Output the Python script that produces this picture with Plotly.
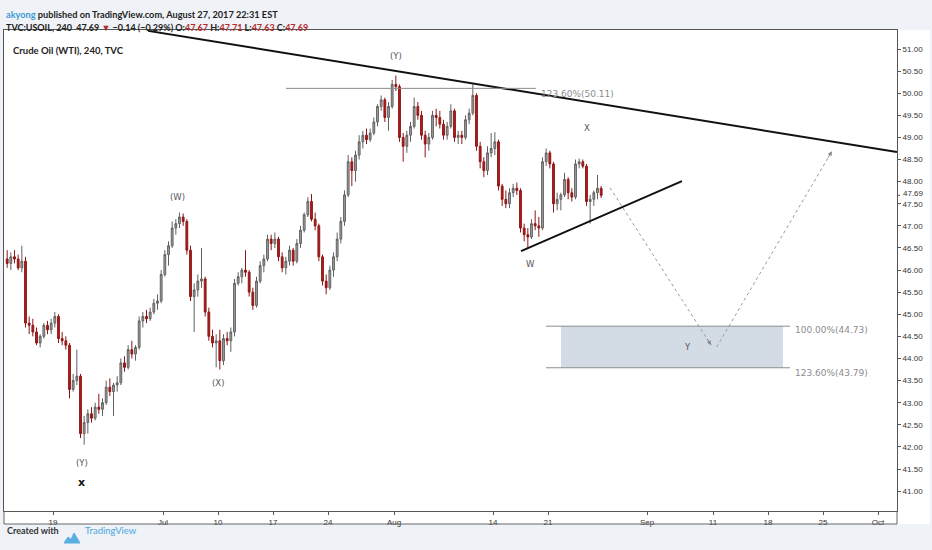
import pandas as pd
import plotly.graph_objects as go

W, H = 932, 550
ML, MR, MT, MB = 4, 35, 30, 39

# 8h bars (first one is the tail of Jun 12)
days = pd.bdate_range("2017-06-13", "2017-08-25")
bar_times = [pd.Timestamp("2017-06-12 20:00")] + [d + pd.Timedelta(hours=h) for d in days for h in (4, 12, 20)]

open_prices = [
    46.25,
    46.15, 46.30, 46.25,  46.05, 46.20, 44.80,  44.75, 44.60, 44.35,  44.50, 44.75, 44.65,
    44.80, 44.95, 44.45,  44.40, 44.30, 43.30,  43.50, 43.60, 42.30,  42.55, 42.75, 42.65,  42.90, 42.85, 43.00,
    43.35, 43.25, 43.40,  43.45, 43.90, 43.80,  44.20, 44.10, 44.25,  44.85, 44.95, 44.90,  45.05, 45.25, 45.30,
    45.90, 46.35, 46.55,  46.95, 47.05, 47.20,  47.10, 46.45, 45.40,  45.55, 45.75, 45.80,  45.05, 44.50, 44.35,
    44.40, 43.95, 44.45,  44.40, 44.60, 45.70,  45.85, 46.00, 45.95,  45.50, 45.20, 45.75,  46.10, 46.25, 46.70,
    46.60, 46.70, 46.30,  46.05, 46.20, 46.45,  46.20, 46.60, 46.90,  47.25, 47.55, 47.15,  47.00, 46.30, 45.75,
    45.60, 46.00, 46.30,  46.70, 47.10, 47.70,  48.45, 48.25, 48.60,  48.90, 49.05, 48.95,  49.10, 49.35, 49.70,
    49.85, 49.45, 49.70,  50.20, 50.15, 49.00,  48.80, 49.05, 49.25,  49.70, 49.50, 49.05,  48.85, 49.00, 49.50,
    49.45, 49.30, 49.05,  49.25, 49.60, 49.00,  49.05, 49.00, 49.40,  49.55, 49.95, 48.80,  48.45, 48.25, 48.65,
    48.75, 48.90, 47.90,  47.60, 47.50, 47.75,  47.85, 47.80, 46.95,  46.80, 46.75, 47.05,  47.00, 46.95, 48.45,
    48.65, 48.40, 47.50,  47.60, 47.70, 48.05,  47.75, 47.65, 48.40,  48.45, 48.35, 47.55,  47.60, 47.75, 47.85,
]
high_prices = [
    46.45,
    46.40, 46.45, 46.35,  46.55, 46.30, 44.95,  44.90, 44.70, 44.55,  44.80, 44.85, 44.90,
    45.05, 45.00, 44.60,  44.50, 44.35, 43.65,  44.20, 43.65, 42.70,  42.85, 42.90, 43.00,  43.20, 43.10, 43.50,
    43.55, 43.45, 43.60,  44.00, 44.05, 44.30,  44.40, 44.30, 44.95,  45.05, 45.10, 45.15,  45.35, 45.45, 46.00,
    46.45, 46.65, 47.10,  47.15, 47.30, 47.28,  47.15, 46.55, 45.70,  45.90, 46.50, 45.85,  45.15, 44.65, 44.55,
    44.65, 44.55, 44.60,  44.70, 45.80, 45.95,  46.05, 46.45, 46.00,  45.60, 45.85, 46.20,  46.35, 46.80, 46.80,
    46.85, 46.75, 46.40,  46.30, 46.55, 46.50,  46.70, 47.00, 47.30,  47.65, 47.72, 47.30,  47.05, 46.35, 45.90,
    46.10, 46.40, 46.85,  47.20, 47.80, 48.60,  48.55, 48.70, 49.05,  49.15, 49.20, 49.20,  49.45, 49.75, 49.95,
    49.90, 49.80, 50.30,  50.40, 50.20, 49.10,  49.15, 49.35, 49.90,  49.80, 49.60, 49.15,  49.10, 49.60, 49.65,
    49.60, 49.40, 49.35,  49.75, 49.65, 49.15,  49.15, 49.50, 49.65,  50.20, 50.00, 48.90,  48.55, 48.80, 49.10,
    49.12, 48.95, 47.95,  47.80, 47.85, 47.95,  47.98, 47.85, 47.05,  46.95, 47.15, 47.35,  47.20, 48.55, 48.75,
    48.70, 48.45, 47.75,  47.75, 48.20, 48.10,  47.85, 48.50, 48.52,  48.50, 48.40, 47.70,  47.80, 48.15, 47.90,
]
low_prices = [
    46.05,
    46.00, 46.15, 46.00,  45.95, 44.70, 44.55,  44.50, 44.30, 44.25,  44.45, 44.55, 44.55,
    44.70, 44.35, 44.30,  44.20, 43.10, 43.25,  43.40, 42.20, 42.05,  42.30, 42.55, 42.60,  42.75, 42.70, 42.95,
    43.15, 42.70, 43.25,  43.40, 43.70, 43.75,  44.00, 43.95, 44.20,  44.70, 44.80, 44.85,  45.00, 45.10, 45.25,
    45.85, 46.10, 46.50,  46.80, 46.95, 47.00,  46.35, 45.30, 44.60,  45.40, 45.60, 44.95,  44.40, 44.25, 43.80,
    43.75, 43.85, 44.30,  44.15, 44.50, 45.65,  45.70, 45.85, 45.40,  45.10, 45.15, 45.70,  45.95, 46.20, 46.45,
    46.50, 46.20, 45.95,  45.90, 46.10, 46.10,  46.15, 46.50, 46.85,  47.20, 47.10, 46.90,  46.20, 45.65, 45.45,
    45.55, 45.85, 46.20,  46.60, 47.00, 47.65,  47.90, 48.00, 48.50,  48.75, 48.85, 48.90,  49.05, 49.25, 49.60,
    49.35, 49.15, 49.65,  50.05, 48.90, 48.45,  48.65, 48.90, 49.20,  49.40, 48.95, 48.55,  48.70, 48.95, 49.25,
    49.20, 48.95, 48.95,  49.20, 48.90, 48.85,  48.85, 48.95, 49.30,  49.50, 48.70, 48.30,  48.10, 48.15, 48.55,
    48.60, 47.80, 47.45,  47.40, 47.40, 47.65,  47.70, 46.85, 46.65,  46.50, 46.70, 46.90,  46.75, 46.90, 48.35,
    48.30, 47.30, 47.35,  47.35, 47.65, 47.60,  47.55, 47.60, 48.30,  48.30, 47.45, 47.05,  47.45, 47.60, 47.63,
]
close_prices = [
    46.15,
    46.30, 46.25, 46.05,  46.20, 44.80, 44.75,  44.60, 44.35, 44.50,  44.75, 44.65, 44.80,
    44.95, 44.45, 44.40,  44.30, 43.30, 43.50,  43.60, 42.30, 42.55,  42.75, 42.65, 42.90,  42.85, 43.00, 43.35,
    43.25, 43.40, 43.45,  43.90, 43.80, 44.20,  44.10, 44.25, 44.85,  44.95, 44.90, 45.05,  45.25, 45.30, 45.90,
    46.35, 46.55, 46.95,  47.05, 47.20, 47.10,  46.45, 45.40, 45.55,  45.75, 45.80, 45.05,  44.50, 44.35, 44.40,
    43.95, 44.45, 44.40,  44.60, 45.70, 45.85,  46.00, 45.95, 45.50,  45.20, 45.75, 46.10,  46.25, 46.70, 46.60,
    46.70, 46.30, 46.05,  46.20, 46.45, 46.20,  46.60, 46.90, 47.25,  47.55, 47.15, 47.00,  46.30, 45.75, 45.60,
    46.00, 46.30, 46.70,  47.10, 47.70, 48.45,  48.25, 48.60, 48.90,  49.05, 48.95, 49.10,  49.35, 49.70, 49.85,
    49.45, 49.70, 50.20,  50.15, 49.00, 48.80,  49.05, 49.25, 49.70,  49.50, 49.05, 48.85,  49.00, 49.50, 49.45,
    49.30, 49.05, 49.25,  49.60, 49.00, 49.05,  49.00, 49.40, 49.55,  49.95, 48.80, 48.45,  48.25, 48.65, 48.75,
    48.90, 47.90, 47.60,  47.50, 47.75, 47.85,  47.80, 46.95, 46.80,  46.75, 47.05, 47.00,  46.95, 48.45, 48.65,
    48.40, 47.50, 47.60,  47.70, 48.05, 47.75,  47.65, 48.40, 48.45,  48.35, 47.55, 47.60,  47.75, 47.85, 47.69,
]
last_price = 47.69

tick_dates = ["2017-06-19", "2017-07-03", "2017-07-10", "2017-07-17", "2017-07-24", "2017-08-01", "2017-08-14",
              "2017-08-21", "2017-09-01", "2017-09-11", "2017-09-18", "2017-09-25", "2017-10-02"]
tick_text = ["19", "Jul", "10", "17", "24", "Aug", "14", "21", "Sep", "11", "18", "25", "Oct"]
price_ticks = [41 + 0.5 * i for i in range(21)]

# drawings (time, price)
trend_hi_t = ["2017-06-29 15:20", "2017-10-03 17:27"]
trend_hi_p = [51.41, 48.67]
trend_lo_t = ["2017-08-16 13:12", "2017-09-06 04:20"]
trend_lo_p = [46.43, 48.01]
leg1_t = ["2017-08-28 15:20", "2017-09-08 20:00"]
leg1_p = [47.86, 44.30]
leg2_t = ["2017-09-11 08:00", "2017-09-25 19:40"]
leg2_p = [44.26, 48.69]

fib_levels = [50.11, 44.73, 43.79]
fib_labels = ["123.60%(50.11)", "100.00%(44.73)", "123.60%(43.79)"]
fib_start = ["2017-07-18 04:20", "2017-08-18 19:40", "2017-08-18 19:40"]
fib_end = ["2017-08-17 21:40", "2017-09-20 00:00", "2017-09-20 00:00"]
box_t = ["2017-08-22 04:20", "2017-09-19 08:40"]

wave_text = ["(Y)", "(W)", "(X)", "(Y)", "X", "W", "Y"]
wave_t = ["2017-08-01 04:20", "2017-07-04 08:40", "2017-07-10 00:00", "2017-06-21 15:20",
          "2017-08-24 13:10", "2017-08-17 10:50", "2017-09-06 15:20"]
wave_p = [50.84, 47.65, 43.44, 41.63, 49.21, 46.14, 44.26]
mark_t, mark_p = "2017-06-21 14:30", 41.20


def px_x(px):
    return (px - ML) / (W - ML - MR)


def px_y(py):
    return (H - MB - py) / (H - MT - MB)


fig = go.Figure()
fig.add_trace(go.Candlestick(
    x=bar_times, open=open_prices, high=high_prices, low=low_prices, close=close_prices,
    increasing=dict(line=dict(color="#606060", width=1), fillcolor="#a4a4a4"),
    decreasing=dict(line=dict(color="#8e1515", width=1), fillcolor="#b21c1c"),
    whiskerwidth=0, showlegend=False, hoverinfo="skip"))

for t, p in [(trend_hi_t, trend_hi_p), (trend_lo_t, trend_lo_p)]:
    fig.add_trace(go.Scatter(x=t, y=p, mode="lines", line=dict(color="#111", width=2),
                             showlegend=False, hoverinfo="skip"))
for t, p in [(leg1_t, leg1_p), (leg2_t, leg2_p)]:
    fig.add_trace(go.Scatter(x=t, y=p, mode="lines", line=dict(color="#9a9a9a", width=1, dash="dot"),
                             showlegend=False, hoverinfo="skip"))

shapes = []
# widget background and frames
shapes.append(dict(type="rect", xref="paper", yref="paper", x0=px_x(4), x1=px_x(930), y0=px_y(524), y1=px_y(30),
                   fillcolor="white", line=dict(width=0), layer="below"))
shapes.append(dict(type="line", xref="paper", yref="paper", x0=px_x(4), x1=px_x(897), y0=px_y(524), y1=px_y(524),
                   line=dict(color="#666", width=1)))
shapes.append(dict(type="line", xref="paper", yref="paper", x0=px_x(4), x1=px_x(4), y0=px_y(524), y1=px_y(511),
                   line=dict(color="#666", width=1)))
shapes.append(dict(type="line", xref="paper", yref="paper", x0=px_x(897), x1=px_x(897), y0=px_y(524), y1=px_y(511),
                   line=dict(color="#666", width=1)))
# fib box and levels
shapes.append(dict(type="rect", xref="x", yref="y", x0=box_t[0], x1=box_t[1], y0=fib_levels[2], y1=fib_levels[1],
                   fillcolor="#d3dce5", line=dict(width=0), layer="below"))
for lv, t0, t1 in zip(fib_levels, fib_start, fib_end):
    shapes.append(dict(type="line", xref="x", yref="y", x0=t0, x1=t1, y0=lv, y1=lv,
                       line=dict(color="#8c8c8c", width=1)))
# last price tick
shapes.append(dict(type="line", xref="paper", yref="y", x0=1, x1=1 + 3 / (W - ML - MR), y0=last_price, y1=last_price,
                   line=dict(color="#555", width=1)))
# logo
lx = [64, 68, 71, 74, 80]
ly = [543, 537, 539.5, 533, 543]
logo_path = "M " + " L ".join(f"{px_x(a)} {px_y(b)}" for a, b in zip(lx, ly)) + " Z"
shapes.append(dict(type="path", xref="paper", yref="paper", path=logo_path,
                   fillcolor="#5aaee2", line=dict(color="#5aaee2", width=1)))

ann = []
for txt, t, p in zip(wave_text, wave_t, wave_p):
    ann.append(dict(x=t, y=p, xref="x", yref="y", text=txt, showarrow=False,
                    font=dict(family="DejaVu Sans", size=8.5, color="#555")))
ann.append(dict(x=mark_t, y=mark_p, xref="x", yref="y", text="<b>x</b>", showarrow=False,
                font=dict(family="DejaVu Sans", size=11, color="#111")))
for lab, lv, t1, ys in zip(fib_labels, fib_levels, fib_end, [-6, -4, -5]):
    ann.append(dict(x=t1, y=lv, xref="x", yref="y", text=lab, showarrow=False, xanchor="left",
                    xshift=3, yshift=ys, font=dict(family="DejaVu Sans", size=9, color="#8c8c8c")))
# arrow heads at the ends of the dotted legs
ann.append(dict(x=leg1_t[1], y=leg1_p[1], xref="x", yref="y", text="", showarrow=True, ax=-5, ay=-8,
                arrowhead=2, arrowsize=0.9, arrowwidth=1, arrowcolor="#8c8c8c"))
ann.append(dict(x=leg2_t[1], y=leg2_p[1], xref="x", yref="y", text="", showarrow=True, ax=-5, ay=8,
                arrowhead=2, arrowsize=0.9, arrowwidth=1, arrowcolor="#8c8c8c"))
ann.append(dict(x=1, y=last_price, xref="paper", yref="y", text=f"{last_price:.2f}", showarrow=False,
                xanchor="left", xshift=4, yshift=2, font=dict(family="Liberation Sans", size=8, color="#333")))
ann.append(dict(x=px_x(11), y=px_y(43), xref="paper", yref="paper", text="<b>Crude Oil (WTI), 240, TVC</b>",
                showarrow=False, xanchor="left", font=dict(family="Lato", size=9.5, color="#222")))

red = "#b52a2a"
ann.append(dict(x=px_x(4), y=px_y(7), xref="paper", yref="paper", showarrow=False, xanchor="left",
                text="<b><span style='color:#3d9bd6'>akyong</span> published on TradingView.com, August 27, 2017 22:31 EST</b>",
                font=dict(family="Lato", size=9.2, color="#222")))
ann.append(dict(x=px_x(4), y=px_y(20), xref="paper", yref="paper", showarrow=False, xanchor="left",
                text=(f"<b>TVC:USOIL, 240 &nbsp;47.69 <span style='color:{red}'>▼</span> −0.14 (−0.29%) "
                      f"O:<span style='color:{red}'>47.67</span> H:<span style='color:{red}'>47.71</span> "
                      f"L:<span style='color:{red}'>47.63</span> C:<span style='color:{red}'>47.69</span></b>"),
                font=dict(family="Lato", size=9, color="#222")))
ann.append(dict(x=px_x(5), y=px_y(538), xref="paper", yref="paper", text="<b>Created with</b>", showarrow=False,
                xanchor="left", font=dict(family="Lato", size=9, color="#333")))
ann.append(dict(x=px_x(83), y=px_y(538), xref="paper", yref="paper", text="TradingView", showarrow=False,
                xanchor="left", font=dict(family="Lato", size=9.5, color="#4da6e0")))

fig.update_layout(
    width=W, height=H, margin=dict(l=ML, r=MR, t=MT, b=MB),
    paper_bgcolor="#eff2f6", plot_bgcolor="white",
    shapes=shapes, annotations=ann, showlegend=False,
    xaxis=dict(type="date", range=["2017-06-12 13:05", "2017-10-03 17:27"],
               rangebreaks=[dict(bounds=["sat", "mon"])], rangeslider=dict(visible=False),
               tickvals=tick_dates, ticktext=tick_text, ticks="outside", ticklen=3, tickcolor="#555",
               tickfont=dict(family="Liberation Sans", size=8, color="#333"),
               showline=True, mirror=True, linecolor="#555", linewidth=1, showgrid=False, zeroline=False),
    yaxis=dict(side="right", range=[40.55, 51.43], tickvals=price_ticks, tickformat=".2f",
               ticks="outside", ticklen=3, tickcolor="#555",
               tickfont=dict(family="Liberation Sans", size=8, color="#333"),
               showline=True, mirror=True, linecolor="#555", linewidth=1, showgrid=False, zeroline=False),
)

# drop the default page margin so the figure sits at the window's corner
fig.write_html("out.html", config={"displayModeBar": False},
               post_script="document.body.style.margin='0px';")
